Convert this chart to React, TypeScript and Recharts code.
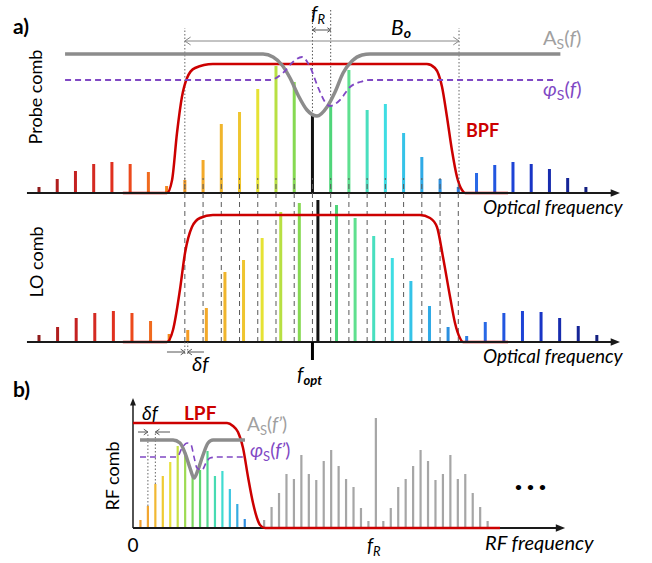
import React from "react";
import { ComposedChart, Bar, Line, Cell, XAxis, YAxis, ReferenceLine } from "recharts";

// optical combs: probe lines at k*FR, LO lines at k*(FR+DF)
const FR = 1;
const DF = 0.02;
const LINE_IDX = [0, 1, 2, 3, 4, 5, 6, 7, 8, 9, 10, 11, 12, 13, 14, 15, 16, 17, 18, 19, 20, 21, 22, 23, 24, 25, 26, 27, 28, 29, 30];
const PROBE_AMP = [6, 14, 22, 29, 31, 29, 21, 7, 13, 33, 69, 81, 104, 127, 111, 78, 87, 123, 83, 89, 60, 36, 14, 6, 20, 28, 31, 29, 24, 15, 6];
const LO_AMP = [7, 15, 24, 29, 31, 29, 21, 8, 12, 34, 70, 82, 104, 130, 139, 142, 137, 124, 106, 84, 61, 36, 15, 6, 20, 29, 31, 30, 24, 16, 7];
const COMB_COLORS = [
  "#8e1b1b", "#b01e1e", "#c42121", "#d42a22", "#e0301f", "#ec4a1c", "#f06a1e", "#f4861f",
  "#f59a22", "#f3a929", "#f0b52c", "#efc52f", "#e6e234", "#b8e043", "#86d952", "#111111",
  "#4fd57a", "#5fe08f", "#49dfbf", "#3fdde3", "#35c3e8", "#2faae6", "#2b90e0", "#2a7de2",
  "#2869e6", "#2256e0", "#1d43d6", "#1935c6", "#172cae", "#152497", "#131f80",
];
const DASH_IDX = [8, 9, 10, 11, 12, 13, 14, 15, 16, 17, 18, 19, 20, 21, 22, 23];

// filter / response curves [f, value]
const BPF_PROBE = [[4.6, 0], [7.02, 0], [7.3, 13], [7.57, 60], [7.84, 96], [8.12, 115], [8.56, 125], [9.54, 129], [21.28, 129], [21.72, 125], [22.11, 106], [22.38, 76], [22.65, 43], [22.93, 16], [23.2, 3], [23.37, 0], [25.73, 0]];
const BPF_LO = [[4.6, 0], [7.02, 0], [7.35, 12], [7.73, 52], [8.01, 89], [8.39, 115], [8.83, 124], [9.54, 127], [20.9, 127], [21.45, 124], [21.83, 115], [22.16, 85], [22.55, 45], [22.82, 19], [23.09, 4], [23.26, 0], [25.73, 0]];
const AMP_RESP = [[1.43, 139], [12.29, 139], [12.84, 136], [13.33, 128], [13.77, 115], [14.21, 98], [14.7, 83], [15.25, 77], [15.8, 86], [16.24, 101], [16.68, 120], [17.17, 132], [17.72, 138], [18.16, 139], [28.6, 139]];
const PHASE_RESP = [[1.43, 113], [12.67, 113], [13.38, 120], [13.93, 131], [14.43, 136], [14.87, 126], [15.3, 106], [15.69, 91], [15.96, 87], [16.51, 93], [17.06, 106], [17.61, 111], [18.16, 113], [28.4, 113]];

// RF comb, x in units of δf
const RF_FR = 32.6;
const RF_BEAT_AMP = [8, 22, 44, 52, 66, 82, 75, 51, 58, 77, 52, 57, 39, 24, 9];
const RF_BEAT_COLORS = ["#f2a02e", "#f2a630", "#f1b832", "#efcb33", "#e8e03a", "#c7df45", "#9edb52", "#7cd85e", "#5fd66f", "#52d78f", "#47dbb2", "#40dbd1", "#3cc6e2", "#36ace2", "#2e8fe0"];
const RF_LOWER_AMP = [8, 21, 35, 54, 49, 73, 54, 48, 67, 78, 62, 49, 41, 20, 7];
const RF_CENTER_AMP = 110;
const RF_UPPER_AMP = [7, 20, 41, 49, 62, 78, 67, 48, 54, 73, 49, 54, 35, 21, 7];
const RF_GRAY = "#a6a6a6";
const LPF = [[0, 105], [12.62, 105], [13.42, 102], [14.09, 96], [14.77, 80], [15.44, 51], [16.11, 25], [16.64, 10], [17.05, 3], [17.72, 0], [49.26, 0]];
const AMP_RESP_RF = [[0.94, 88], [5.37, 88], [6.31, 85], [6.98, 75], [7.65, 60], [8.19, 50], [8.72, 58], [9.4, 73], [10.07, 85], [10.74, 88], [15.03, 88]];
const PHASE_RESP_RF = [[0.94, 71], [5.91, 71], [6.58, 80], [7.25, 85], [7.79, 83], [8.19, 71], [8.59, 60], [9.26, 58], [9.8, 65], [10.34, 70], [11.28, 71], [15.03, 71]];

const RED = "#cc0000";
const GRAY_CURVE = "#8c8c8c";
const PURPLE = "#8048c4";
const FONT = "Lato, 'Open Sans', sans-serif";

const probeData = LINE_IDX.map((k, i) => ({ f: k * FR, amp: PROBE_AMP[i], color: COMB_COLORS[i] }));
const loData = LINE_IDX.map((k, i) => ({ f: k * (FR + DF), amp: LO_AMP[i], color: COMB_COLORS[i] }));
const rfData = [
  ...RF_BEAT_AMP.map((a, i) => ({ f: i + 1, amp: a, color: RF_BEAT_COLORS[i] })),
  ...RF_LOWER_AMP.map((a, i) => ({ f: RF_FR - 15 + i, amp: a, color: RF_GRAY })),
  { f: RF_FR, amp: RF_CENTER_AMP, color: RF_GRAY },
  ...RF_UPPER_AMP.map((a, i) => ({ f: RF_FR + 1 + i, amp: a, color: RF_GRAY })),
];
const pts = (arr: number[][]) => arr.map(([f, v]) => ({ f, v }));

const OPT_X: [number, number] = [-2.139, 33.626];
const RF_X: [number, number] = [-17.852, 69.664];

type ArrowOpt = { color: string; w?: number; dash?: string; end?: "filled" | "open"; start?: "open"; s?: number };
const arrow = (o: ArrowOpt) => (p: any) => {
  const { x1, y1, x2, y2 } = p;
  const a = Math.atan2(y2 - y1, x2 - x1);
  const s = o.s ?? 6;
  const w = o.w ?? 1;
  const tip = (x: number, y: number, ang: number, kind: string) => {
    const sp = kind === "filled" ? 0.38 : 0.6;
    const ax = x - s * Math.cos(ang - sp), ay = y - s * Math.sin(ang - sp);
    const bx = x - s * Math.cos(ang + sp), by = y - s * Math.sin(ang + sp);
    return kind === "filled"
      ? <path d={`M${ax},${ay}L${x},${y}L${bx},${by}Z`} fill={o.color} />
      : <path d={`M${ax},${ay}L${x},${y}L${bx},${by}`} fill="none" stroke={o.color} strokeWidth={w} />;
  };
  const ex = o.end === "filled" ? x2 - s * 0.7 * Math.cos(a) : x2;
  const ey = o.end === "filled" ? y2 - s * 0.7 * Math.sin(a) : y2;
  return (
    <g>
      <line x1={x1} y1={y1} x2={ex} y2={ey} stroke={o.color} strokeWidth={w} strokeDasharray={o.dash} />
      {o.end && tip(x2, y2, a, o.end)}
      {o.start && tip(x1, y1, a + Math.PI, o.start)}
    </g>
  );
};

const seg = (x1: number, y1: number, x2: number, y2: number, o: ArrowOpt, key?: string | number) => (
  <ReferenceLine key={key} segment={[{ x: x1, y: y1 }, { x: x2, y: y2 }]} ifOverflow="visible" shape={arrow(o)} />
);

const DOT = { color: "#666", dash: "1.5 2" };
const AXIS = { color: "#1a1a1a", w: 2, end: "filled" as const, s: 10 };

const curve = (data: number[][], color: string, w: number, dash?: string) => (
  <Line data={pts(data)} dataKey="v" type="monotone" stroke={color} strokeWidth={w} strokeDasharray={dash}
    dot={false} activeDot={false} isAnimationActive={false} />
);

// comb line: fixed-width stroke centred on the bar's own x position
const combLine = (w: number) => (p: any) => {
  const cx = p.x + p.width / 2;
  return <rect x={cx - w / 2} y={p.y} width={w} height={Math.max(p.height, 0)} fill={p.fill} />;
};

const combBars = (data: { color: string }[], size: number) => (
  <Bar dataKey="amp" shape={combLine(size)} isAnimationActive={false}>
    {data.map((d, i) => <Cell key={i} fill={d.color} />)}
  </Bar>
);

const margin = { top: 0, right: 0, bottom: 0, left: 0 };

function ProbePanel() {
  return (
    <ComposedChart width={652} height={200} data={probeData} margin={margin}>
      <XAxis type="number" dataKey="f" domain={OPT_X} allowDataOverflow hide />
      <YAxis type="number" domain={[-7, 193]} allowDataOverflow hide />
      {seg(8, 0, 8, 165, DOT)}
      {seg(23.04, 0, 23.04, 165, DOT)}
      {seg(15, PROBE_AMP[15], 15, 183, { color: "#555", dash: "1.5 2" })}
      {seg(16, PROBE_AMP[16], 16, 183, { color: "#555", dash: "1.5 2" })}
      {seg(8, 152, 23.04, 152, { color: "#888", end: "open", start: "open", s: 7 })}
      {seg(15, 163, 16, 163, { color: "#555", end: "open", start: "open", s: 4 })}
      {combBars(probeData, 3)}
      {curve(BPF_PROBE, RED, 2.5)}
      {curve(AMP_RESP, GRAY_CURVE, 3.5)}
      {curve(PHASE_RESP, PURPLE, 1.8, "6 4")}
      {seg(-0.66, 0, 31.87, 0, AXIS)}
    </ComposedChart>
  );
}

function LoPanel() {
  return (
    <ComposedChart width={652} height={195} data={loData} margin={margin}>
      <XAxis type="number" dataKey="f" domain={OPT_X} allowDataOverflow hide />
      <YAxis type="number" domain={[-23, 172]} allowDataOverflow hide />
      {DASH_IDX.map((k) => seg(k * FR, 0, k * FR, 164, { color: "#5a5a5a", dash: "5 4" }, k))}
      {combBars(loData, 3)}
      {curve(BPF_LO, RED, 2.5)}
      {seg(-0.66, 0, 31.87, 0, AXIS)}
      {seg(15 * FR, 0, 15 * FR, -18, { color: "#000", w: 3 })}
      {seg(8 * FR, 0, 8 * FR, -13, DOT)}
      {seg(8 * (FR + DF), 0, 8 * (FR + DF), -13, DOT)}
      {seg(7.02, -10, 8 * FR, -10, { color: "#555", end: "open", s: 5 })}
      {seg(9.05, -10, 8 * (FR + DF), -10, { color: "#555", end: "open", s: 5 })}
    </ComposedChart>
  );
}

function RfPanel() {
  return (
    <ComposedChart width={652} height={150} data={rfData} margin={margin}>
      <XAxis type="number" dataKey="f" domain={RF_X} allowDataOverflow hide />
      <YAxis type="number" domain={[-7, 143]} allowDataOverflow hide />
      {combBars(rfData, 2.2)}
      {seg(2, RF_BEAT_AMP[1], 2, 95, DOT)}
      {seg(3, RF_BEAT_AMP[2], 3, 95, DOT)}
      {seg(0, 0, 58, 0, AXIS)}
      {seg(0, 0, 0, 130, { ...AXIS, w: 1.5, s: 8 })}
      {curve(LPF, RED, 2.5)}
      {curve(AMP_RESP_RF, GRAY_CURVE, 3.5)}
      {curve(PHASE_RESP_RF, PURPLE, 1.6, "6 4")}
      {seg(0.67, 96, 2, 96, { color: "#555", end: "open", s: 5 })}
      {seg(4.97, 96, 3, 96, { color: "#555", end: "open", s: 5 })}
    </ComposedChart>
  );
}

function Labels() {
  const it = { fontStyle: "italic" as const };
  return (
    <svg width={652} height={563} style={{ position: "absolute", left: 0, top: 0, pointerEvents: "none" }} fontFamily={FONT}>
      <text x={13} y={34} fontSize={21} fontWeight="bold">a)</text>
      <text x={13} y={397} fontSize={21} fontWeight="bold">b)</text>
      <text x={42} y={97} fontSize={18} textAnchor="middle" transform="rotate(-90 42 97)">Probe comb</text>
      <text x={43} y={262} fontSize={18} textAnchor="middle" transform="rotate(-90 43 262)">LO comb</text>
      <text x={119} y={476} fontSize={18} textAnchor="middle" transform="rotate(-90 119 476)">RF comb</text>

      <text x={311} y={20} fontSize={20} {...it}>f<tspan fontSize={13} dy={4}>R</tspan></text>
      <text x={391} y={35} fontSize={21} {...it}>B<tspan fontSize={14} dy={3} fontWeight="bold">o</tspan></text>
      <text x={543} y={45} fontSize={20} fill="#a0a0a0">A<tspan fontSize={14} dy={4}>S</tspan><tspan dy={-4}>(</tspan><tspan {...it}>f</tspan>)</text>
      <text x={543} y={96} fontSize={20} fill={PURPLE}><tspan {...it}>φ</tspan><tspan fontSize={14} dy={4}>S</tspan><tspan dy={-4}>(</tspan><tspan {...it}>f</tspan>)</text>
      <text x={466} y={137} fontSize={18} fontWeight="bold" fill={RED}>BPF</text>
      <text x={483} y={214} fontSize={19} {...it}>Optical frequency</text>
      <text x={483} y={363} fontSize={19} {...it}>Optical frequency</text>
      <text x={192} y={371} fontSize={20} {...it}>δf</text>
      <text x={297} y={381} fontSize={20} {...it}>f<tspan fontSize={13} dy={4} fontWeight="bold">opt</tspan></text>

      <text x={142} y={420} fontSize={19} {...it}>δf</text>
      <text x={184} y={420} fontSize={19} fontWeight="bold" fill={RED}>LPF</text>
      <text x={247} y={431} fontSize={19} fill="#a0a0a0">A<tspan fontSize={13} dy={4}>S</tspan><tspan dy={-4}>(</tspan><tspan {...it}>f’</tspan>)</text>
      <text x={250} y={457} fontSize={19} fill={PURPLE}><tspan {...it}>φ</tspan><tspan fontSize={13} dy={4}>S</tspan><tspan dy={-4}>(</tspan><tspan {...it}>f’</tspan>)</text>
      <text x={133} y={552} fontSize={19} textAnchor="middle">0</text>
      <text x={367} y={552} fontSize={19} {...it}>f<tspan fontSize={13} dy={4}>R</tspan></text>
      <text x={485} y={550} fontSize={20} {...it}>RF frequency</text>
      <text x={515} y={491} fontSize={12} fontWeight="bold" letterSpacing={5}>•••</text>
    </svg>
  );
}

export default function App() {
  return (
    <div style={{ position: "absolute", left: 0, top: 0, width: 652, height: 563, background: "#fff", fontFamily: FONT }}>
      <div style={{ position: "absolute", left: 0, top: 0 }}><ProbePanel /></div>
      <div style={{ position: "absolute", left: 0, top: 170 }}><LoPanel /></div>
      <div style={{ position: "absolute", left: 0, top: 385 }}><RfPanel /></div>
      <Labels />
    </div>
  );
}
